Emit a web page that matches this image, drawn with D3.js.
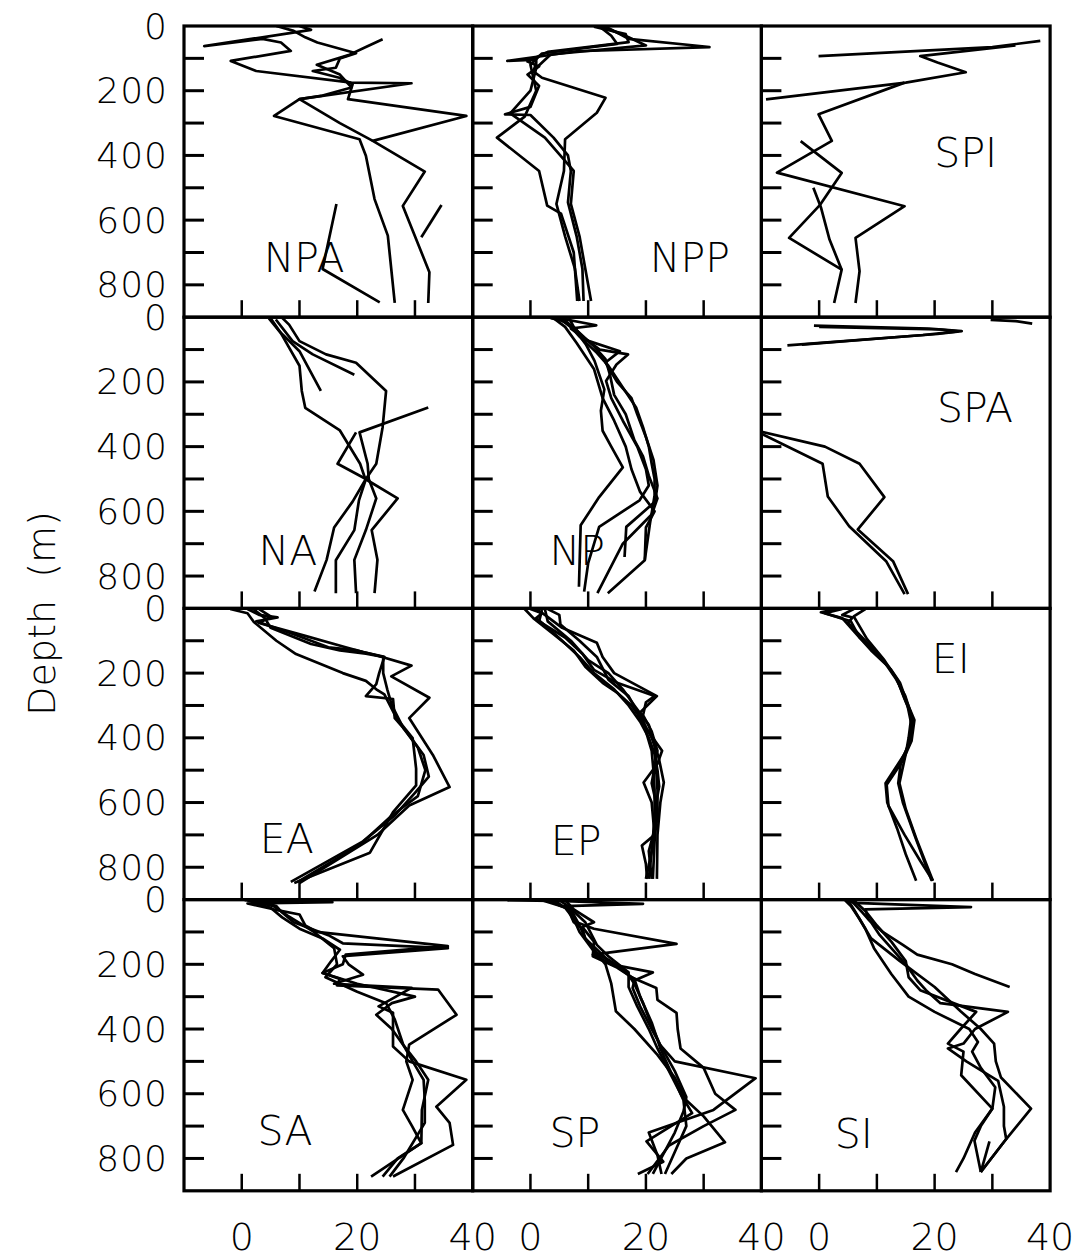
<!DOCTYPE html>
<html>
<head>
<meta charset="utf-8">
<script src="https://cdn.jsdelivr.net/npm/d3@7"></script>
<style>
  body { margin: 0; background: #fff; }
  svg { display: block; }
  text { font-family: "DejaVu Sans", sans-serif; fill: #000; font-weight: 200; }
</style>
</head>
<body>
<div id="chart"></div>
<script>
// Panel names, row by row (3 columns)
const panelNames = ["NPA", "NPP", "SPI", "NA", "NP", "SPA", "EA", "EP", "EI", "SA", "SP", "SI"];
const depthTicks = [100, 200, 300, 400, 500, 600, 700, 800];
const depthLabels = [0, 200, 400, 600, 800];
const valueTicks = [0, 10, 20, 30];
const valueLabels = [0, 20, 40];

// Profiles for each panel: list of [depth (m), value]
const NPA = [
  [[0,10],[12,12],[62,-6.5],[40,3.6],[51,6.8],[77,8.5],[108,-1.9],[139,2.5],[175,19],[177,29.4],[226,10],[278,5.6],[350,20.4],[401,21.5],[535,23],[648,25.3],[856,26.5]],
  [[0,6],[15,9],[35,11],[51,13.1],[84,19.8],[100,17],[129,16.3],[139,12.3],[160,16.9],[180,19.2],[226,18.4],[278,38.9],[355,22.7],[450,31.7],[556,27.9],[761,32.5],[856,32.3]],
  [[41,24.4],[65,21.5],[90,18.5],[120,13],[150,17],[190,19],[215,14],[226,10],[300,17],[355,22.7]],
  [[553,34.6],[653,31.1]],
  [[550,16.4],[751,14],[854,23.9]]
];
const NPP = [
  [[2,13],[20,15],[40,17],[65,31],[78,8],[108,-4],[104,1],[115,1],[140,0.5],[160,2],[222,13],[268,11.5],[350,6],[448,5.8],[550,4.5],[650,6],[750,7.7],[850,8.5]],
  [[2,11],[25,16.5],[50,17],[80,3],[110,-0.5],[125,1.5],[150,-0.5],[185,1.5],[250,0],[273,-4.4],[275,0],[345,4],[400,6.5],[448,7],[545,6.5],[650,8],[750,9],[850,9.2]],
  [[2,12],[30,14],[55,15],[85,2],[120,0],[200,1],[280,-1],[345,-5.8],[448,1.5],[555,2.9],[580,5.3],[700,7.5],[850,8.1]],
  [[2,12.5],[35,17],[60,20],[88,3.5],[130,1],[200,0],[270,-3.5],[345,2.5],[448,7.5],[550,7],[650,8.5],[750,9.5],[850,10.5]]
];
const SPI = [
  [[46,38.3],[65,30],[93,-0.1]],
  [[60,34],[93,17.5],[113,20.5],[143,25.4],[175,15],[227,-9.2]],
  [[175,14.8],[273,-0.1],[355,2.2],[453,-7.3],[557,14.8],[655,6.3],[758,7],[856,6.3]],
  [[356,-3.2],[454,3.9],[552,0.2],[655,-5.2],[753,3.9],[856,2.6]],
  [[500,-1],[560,0.3],[660,1.8],[753,3.9]]
];
const NA = [
  [[4,4.7],[43,6.5],[105,10],[228,13.7]],
  [[7,5.9],[74,8.8],[115,12.3],[178,19.5]],
  [[2,7],[23,8.2],[74,10],[115,14.6],[141,19.8],[228,25],[340,24.4],[453,23.3],[500,21.5],[566,20.3],[658,19.5],[751,16.3],[853,16.3]],
  [[3,5],[50,6.8],[150,10],[228,10.4],[280,11],[350,17],[453,20.5],[500,21.4],[560,27],[658,22.5],[750,23.5],[853,23]],
  [[279,32.3],[356,20.4],[453,21.8],[500,22],[560,23.3],[658,21.5],[750,19.5],[853,19.8]],
  [[356,19.8],[453,16.6],[500,21.5],[570,19.2],[650,16],[750,14.7],[848,12.6]]
];
const NP = [
  [[3,3.5],[10,5.5],[43,7.9],[84,9.6],[135,11.1],[223,12.8],[289,12.2],[351,12.5],[400,14],[464,16],[556,11.9],[643,8.7],[833,8.4]],
  [[3,5],[25,11.4],[35,7],[60,9],[100,12],[115,16.9],[146,14.9],[197,13.1],[250,14],[320,16],[400,18.5],[470,20],[520,20.5],[566,18.9],[648,11.9],[760,10],[848,9.3]],
  [[3,4.5],[20,6.5],[60,8.5],[110,11.5],[150,13.5],[217,16],[279,18.3],[340,19.5],[400,20.5],[453,21],[500,21.5],[551,21.5],[638,20.7],[751,19.8],[853,13.4]],
  [[3,6.7],[30,7.5],[70,9.5],[105,15.5],[140,13],[200,15],[250,17.5],[300,18.5],[370,20],[440,21.3],[520,22],[570,21.6],[648,16.6],[741,16.3]],
  [[3,5.5],[40,8],[90,11],[130,13],[180,13.8],[240,14.5],[300,16.5],[380,18],[430,19.5],[490,20.5],[560,22],[610,21],[700,16],[853,11.6]],
  [[3,4],[30,6],[80,8],[160,11],[250,12.5],[320,14.5],[400,16.5],[470,17.5],[540,19],[600,21.5],[650,20],[750,19.8]]
];
const SPA = [
  [[8,29.7],[12,34],[20,36.9]],
  [[26,-0.9],[35,19],[43,24.7],[52,20.5],[87,-5.5]],
  [[30,0],[38,21],[44,24],[55,18],[85,-3]],
  [[354,-10],[400,1],[453,7],[556,11.3],[656,6.7],[754,12.8],[856,15.4]],
  [[360,-10],[453,0.6],[554,1.5],[646,5.2],[754,11.6],[856,14.8]]
];
const EA = [
  [[2,-2],[15,1],[42,2.1],[100,6],[141,9.4],[200,17.5],[224,21.5],[250,23.3],[266,24.7],[339,26.8],[401,29.6],[495,30.2],[547,30.2],[630,26.2],[755,22.2],[849,9.1]],
  [[2,1],[20,3],[28,6.2],[40,2.5],[80,9],[120,15],[130,20],[145,23.3],[177,29.4],[210,25.9],[276,32.5],[339,29],[453,33.1],[552,36],[609,29],[700,23.5],[849,10]],
  [[2,3],[25,5],[45,3],[85,11],[120,18],[135,21],[150,24.7],[200,23.8],[234,23.3],[271,21.5],[280,26.2],[339,26.5],[380,28.5],[453,31.5],[520,32.4],[570,30],[640,26.5],[720,21],[845,8.5]],
  [[2,2],[30,4],[60,5],[110,12],[130,17],[140,21.5],[150,24.5],[200,24.5],[250,25.2],[300,26],[370,28],[430,30.5],[500,31.8],[580,30.5],[640,26],[730,20.5],[845,9.7]]
];
const EP = [
  [[2,0],[15,2],[30,1],[60,3],[100,5.5],[150,8.5],[200,11],[250,14.5],[300,17],[350,19],[400,20.5],[450,21.5],[500,22],[550,22.3],[600,21.8],[650,21.6],[700,21.3],[750,21],[836,20.5]],
  [[2,1],[20,2.5],[60,5.5],[106,11.5],[150,12.5],[200,14.5],[271,21.9],[322,19],[370,20],[440,22.8],[480,22],[538,19.6],[600,21],[700,21.5],[733,19.3],[790,20],[836,20.2]],
  [[2,-1],[30,0.5],[80,4],[130,7.5],[180,9.5],[230,12.5],[260,15],[300,17.5],[350,19.5],[400,21],[460,22.2],[538,23.1],[600,22.5],[700,22],[836,21.9]],
  [[2,3],[20,5],[50,5.2],[100,8.5],[150,11.5],[220,13.5],[271,17],[320,18.5],[380,20],[440,21],[500,21.3],[560,21.5],[650,21.5],[750,21],[836,20]],
  [[5,2],[40,1.5],[90,6],[140,9],[190,11],[230,15],[271,21.5],[290,20],[330,19.5],[380,21],[440,22],[540,21],[620,22],[720,21.5],[836,21.2]],
  [[2,2.5],[40,3],[100,7],[160,10],[200,13.5],[250,16],[300,18],[360,20.5],[420,21.5],[480,21.7],[560,22],[650,22],[750,20.5],[836,21]]
];
const EI = [
  [[2,3],[12,0.3],[30,4],[80,6.5],[130,9],[180,12],[220,13.5],[280,14.8],[340,16.2],[400,15.9],[450,14.8],[540,11.5],[600,11.8],[680,13.5],[760,15],[842,16.8]],
  [[2,4],[15,1],[40,5.5],[90,7],[140,10],[190,12.5],[230,14],[290,15.2],[345,16.5],[410,16],[470,14.5],[545,11.7],[610,12],[700,14.8],[780,17.5],[842,19.7]],
  [[2,6],[20,4],[28,5.8],[45,5],[100,8],[150,10.7],[215,13.2],[270,14.9],[330,16],[400,15.5],[450,15],[540,13.9],[620,15],[720,17],[842,19.7]],
  [[2,8],[25,6],[40,6.5],[95,8.3],[160,11.3],[220,13.5],[300,15.3],[360,16],[420,15.6],[470,14.2],[540,13.7],[600,14.5],[700,16.5],[800,18.6],[842,19.5]]
];
const SA = [
  [[2,0.5],[8,15.7],[12,1],[30,5.5],[46,10],[80,11],[100,13],[144,35.7],[170,18],[200,17.5],[227,14],[260,20],[300,30],[320,26],[356,23.3],[400,26],[450,28],[500,30.2],[557,32.3],[650,31.2],[753,31.1],[800,27],[856,24.4]],
  [[5,3],[20,6],[40,7],[70,9],[110,15],[135,17.5],[150,35.7],[175,17.5],[200,18.5],[232,21],[260,16],[273,29.4],[330,23.7],[350,26.2],[454,26.2],[500,29],[557,38.9],[640,33.7],[690,36],[758,36.6],[856,26.2]],
  [[3,1],[25,5],[55,7],[90,10],[120,14],[155,17],[190,15.5],[227,14],[245,17],[265,16.5],[278,34],[356,37.2],[448,29],[500,28.5],[557,29.6],[650,27.9],[700,29.5],[753,31.1],[856,22.4]],
  [[4,2],[20,5.5],[50,8],[100,12.5],[150,16],[200,16.5],[240,14.5],[285,20],[320,25],[370,26.5],[450,28],[500,29.6],[557,31.5],[620,31.7],[690,31.7],[800,28],[856,25.6]]
];
const SP = [
  [[2,-4],[5,6],[13,19.5],[20,6],[40,7],[70,8],[90,11],[137,25.3],[170,10.8],[200,14],[225,21.2],[250,18],[273,17.7],[330,19],[400,21],[450,22.5],[500,25],[552,39],[650,31.7],[720,20.5],[790,22],[848,22.7]],
  [[2,4],[30,6.5],[70,7.5],[90,9],[120,9.5],[200,13],[260,14],[345,14.8],[400,18],[480,22],[550,25],[620,27],[670,30],[750,33.7],[800,27],[848,24.4]],
  [[2,3],[25,6],[60,7.5],[100,8.5],[160,11],[200,14.5],[240,17.5],[273,21.8],[310,22],[350,25.3],[400,25.5],[460,26],[520,30],[600,32],[650,35.5],[700,30],[760,24],[848,20.3]],
  [[2,5],[20,6.5],[70,9.5],[140,11.5],[175,13.5],[225,17],[270,17],[330,18.5],[400,20.5],[460,22],[530,24],[600,26],[660,28],[747,20.1],[810,23],[848,18.6]],
  [[2,2],[30,7],[80,8.5],[120,9.5],[180,13],[220,16.5],[260,18],[320,19.5],[390,21],[450,22.5],[530,25],[610,27],[655,26.5],[720,25],[848,21.2]],
  [[2,6],[30,7.5],[70,11],[85,9],[130,11],[175,10.8],[210,15],[245,18],[300,19],[380,21],[460,22.5],[540,24.5],[620,26.5],[700,27],[780,25],[848,23.3]]
];
const SI = [
  [[2,5],[10,6],[23,26.3],[30,8],[60,8.5],[100,11],[140,14.5],[170,17],[200,23],[230,27],[270,33]],
  [[2,4.5],[20,5.5],[60,7],[120,9],[190,14],[270,20],[345,24.5],[400,28],[445,30.3],[500,30.6],[550,31.5],[646,36.7],[740,32.4],[842,28]],
  [[2,5.5],[40,7.5],[70,9],[110,10.5],[150,12.5],[200,15],[250,17],[280,18.5],[320,21],[347,32.7],[400,27],[445,25],[460,22.3],[500,25.5],[560,31],[640,32],[700,32],[740,32.4],[842,28]],
  [[2,6],[35,8],[80,10],[130,12.5],[190,15],[240,15.5],[280,17.5],[347,27.2],[400,24.5],[445,22.3],[470,25],[543,24.6],[646,30],[720,27],[800,25],[842,23.7]],
  [[2,5],[30,6],[90,8],[150,9.5],[230,12.5],[300,15.5],[347,20],[400,26],[440,27.5],[470,26.5],[520,28],[580,30.5],[646,30],[700,28],[745,26.9],[842,28]],
  [[747,29.5],[842,28]]
];

const profiles = { NPA, NPP, SPI, NA, NP, SPA, EA, EP, EI, SA, SP, SI };

// Where the region name sits in each panel, as [value, baseline depth]
const labelSpots = {
  NPA: [10.8, 760], NPP: [27.6, 760], SPI: [25.4, 436],
  NA: [8, 766], NP: [8.1, 766], SPA: [27, 324],
  EA: [7.8, 756], EP: [7.9, 762], EI: [22.8, 199],
  SA: [7.5, 758], SP: [7.7, 764], SI: [6, 767]
};

const width = 1079, height = 1260;
const left0 = 184, top0 = 26;
const colW = 288.7, rowH = 291.2;

const svg = d3.select("#chart").append("svg")
  .attr("width", width)
  .attr("height", height);

const x = d3.scaleLinear().domain([-10, 40]).range([0, colW]);
const y = d3.scaleLinear().domain([0, 900]).range([0, rowH]);

const line = d3.line()
  .x(p => x(p[1]))
  .y(p => y(p[0]));

// one clip box, in panel coordinates, shared by all panels
svg.append("clipPath").attr("id", "panel-clip")
  .append("rect").attr("width", colW).attr("height", rowH);

panelNames.forEach((name, i) => {
  const col = i % 3, row = Math.floor(i / 3);
  const g = svg.append("g")
    .attr("transform", `translate(${left0 + col * colW},${top0 + row * rowH})`);

  g.append("g")
    .attr("clip-path", "url(#panel-clip)")
    .selectAll("path")
    .data(profiles[name])
    .enter().append("path")
    .attr("d", line)
    .attr("fill", "none")
    .attr("stroke", "#000")
    .attr("stroke-width", 2.7)
    .attr("stroke-linejoin", "round");

  // depth ticks, inside on the left
  g.selectAll("line.dtick")
    .data(depthTicks)
    .enter().append("line")
    .attr("class", "dtick")
    .attr("x1", 0).attr("x2", 20)
    .attr("y1", d => y(d)).attr("y2", d => y(d))
    .attr("stroke", "#000").attr("stroke-width", 3);

  // value ticks, inside at the bottom
  g.selectAll("line.vtick")
    .data(valueTicks)
    .enter().append("line")
    .attr("class", "vtick")
    .attr("x1", d => x(d)).attr("x2", d => x(d))
    .attr("y1", rowH).attr("y2", rowH - 17)
    .attr("stroke", "#000").attr("stroke-width", 2.5);

  g.append("rect")
    .attr("width", colW).attr("height", rowH)
    .attr("fill", "none")
    .attr("stroke", "#000").attr("stroke-width", 3.2);

  const spot = labelSpots[name];
  g.append("text")
    .attr("x", x(spot[0])).attr("y", y(spot[1]))
    .attr("text-anchor", "middle")
    .style("font-size", "41px")
    .text(name);

  // depth labels on the first column
  if (col === 0) {
    g.selectAll("text.dlab")
      .data(depthLabels)
      .enter().append("text")
      .attr("class", "dlab")
      .attr("x", -16).attr("y", d => y(d))
      .attr("text-anchor", "end")
      .attr("dominant-baseline", "central")
      .style("font-size", "36px")
      .style("letter-spacing", "1px")
      .text(d => d);
  }

  // value labels on the bottom row
  if (row === 3) {
    g.selectAll("text.vlab")
      .data(valueLabels)
      .enter().append("text")
      .attr("class", "vlab")
      .attr("x", d => x(d)).attr("y", rowH + 59)
      .attr("text-anchor", "middle")
      .style("font-size", "38px")
      .text(d => d);
  }
});

svg.append("text")
  .attr("transform", `translate(55,${top0 + 2 * rowH + 5}) rotate(-90)`)
  .attr("text-anchor", "middle")
  .style("font-size", "38px")
  .style("word-spacing", "10px")
  .text("Depth (m)");
</script>
</body>
</html>
